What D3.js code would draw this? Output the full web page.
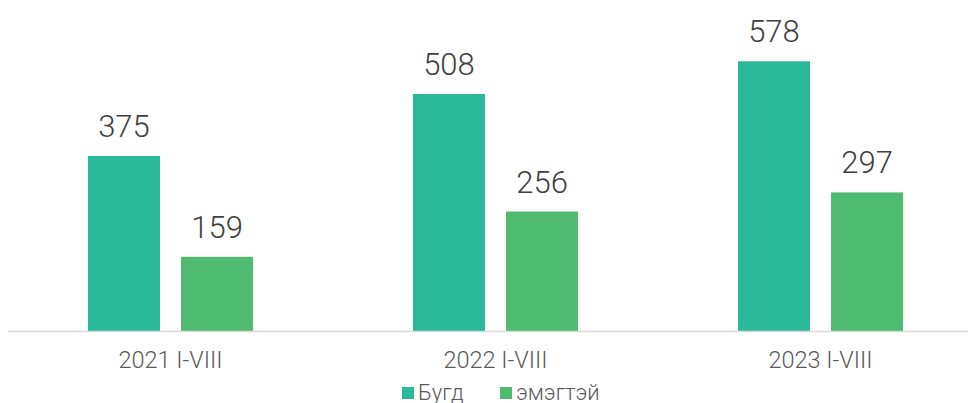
<!DOCTYPE html>
<html>
<head>
<meta charset="utf-8">
<script src="https://cdn.jsdelivr.net/npm/d3@7"></script>
<style>
  body { margin: 0; background: #fff; }
  text { font-family: Roboto, sans-serif; font-weight: 300; }
</style>
</head>
<body>
<div id="chart-area"></div>
<script>
var categories = ["2021 I-VIII", "2022 I-VIII", "2023 I-VIII"];
var series = ["Бугд", "эмэгтэй"];
var total = [375, 508, 578];
var women = [159, 256, 297];
var colors = ["#2aba9a", "#4fbb70"];

var width = 969;
var height = 403;
var baseline = 331;

var svg = d3.select('#chart-area')
.append('svg')
.attr('width', width)
.attr('height', height);

var data = categories.map((c, i) => {
    return {cat: c, values: [total[i], women[i]]};
});

var x0 = d3.scaleBand()
    .domain(categories)
    .range([8, 983]);

var x1 = d3.scaleBand()
    .domain(series)
    .range([x0.bandwidth() * 0.246, x0.bandwidth() * 0.754])
    .paddingInner(0.226);

var y = d3.scaleLinear()
    .domain([0, 600])
    .range([baseline, baseline - 280]);

var groups = svg.selectAll('g.group').data(data)
    .enter()
    .append('g')
    .attr('class', 'group')
    .attr('transform', (d) => "translate(" + x0(d.cat) + ",0)");

groups.selectAll('rect')
    .data((d) => d.values.map((v, i) => ({s: series[i], v: v, i: i})))
    .enter()
    .append('rect')
    .attr('x', (d) => x1(d.s))
    .attr('y', (d) => y(d.v))
    .attr('width', x1.bandwidth())
    .attr('height', (d) => baseline - y(d.v))
    .attr('fill', (d) => colors[d.i]);

groups.selectAll('text.val')
    .data((d) => d.values.map((v, i) => ({s: series[i], v: v})))
    .enter()
    .append('text')
    .attr('class', 'val')
    .attr('x', (d) => x1(d.s) + x1.bandwidth() / 2)
    .attr('y', (d) => y(d.v) - 19)
    .attr('text-anchor', 'middle')
    .attr('font-size', '31px')
    .attr('fill', '#404040')
    .text((d) => d.v);

// axis line
svg.append('line')
    .attr('x1', 8)
    .attr('x2', 968)
    .attr('y1', baseline + 0.5)
    .attr('y2', baseline + 0.5)
    .attr('stroke', '#d9d9d9')
    .attr('stroke-width', 1.5);

var botAxis = d3.axisBottom(x0).tickSize(0).tickPadding(0);

svg.append("g")
    .attr("class", "bottom axis")
    .attr("transform", "translate(0, " + baseline + ")")
    .call(botAxis)
    .call((g) => g.select('.domain').remove())
    .selectAll("text")
    .attr("y", 37)
    .attr("dy", 0)
    .attr("font-size", "23.5px")
    .attr("font-family", "Roboto, sans-serif")
    .attr("font-weight", 300)
    .attr("fill", "#595959");

// legend
var legendX = [402, 500];
var legend = svg.selectAll('g.legend').data(series)
    .enter()
    .append('g')
    .attr('class', 'legend')
    .attr('transform', (d, i) => "translate(" + legendX[i] + ",387)");

legend.append('rect')
    .attr('width', 12)
    .attr('height', 12)
    .attr('fill', (d, i) => colors[i]);

legend.append('text')
    .attr('x', 16)
    .attr('y', 13)
    .attr('font-size', '22px')
    .attr('fill', '#595959')
    .text((d) => d);
</script>
</body>
</html>
